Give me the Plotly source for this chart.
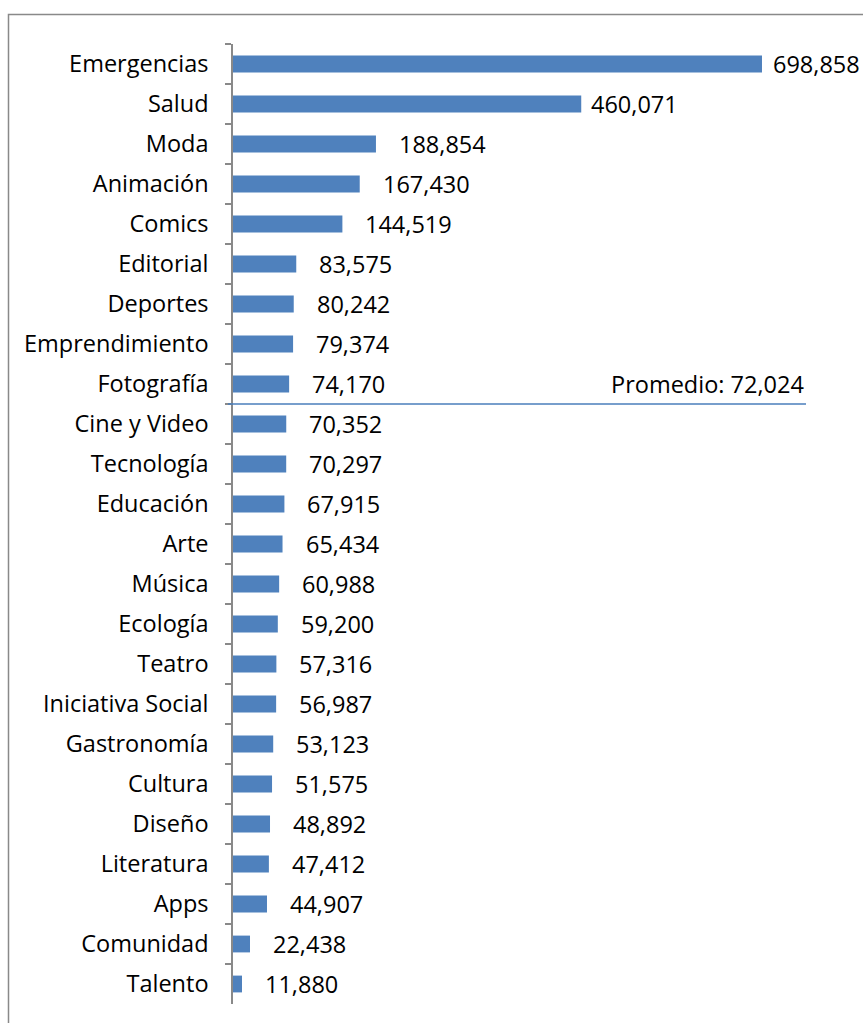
import plotly.graph_objects as go

# Visits per category
categories = [
    "Emergencias", "Salud", "Moda", "Animación", "Comics", "Editorial",
    "Deportes", "Emprendimiento", "Fotografía", "Cine y Video", "Tecnología",
    "Educación", "Arte", "Música", "Ecología", "Teatro", "Iniciativa Social",
    "Gastronomía", "Cultura", "Diseño", "Literatura", "Apps", "Comunidad",
    "Talento",
]
values = [
    698858, 460071, 188854, 167430, 144519, 83575, 80242, 79374, 74170,
    70352, 70297, 67915, 65434, 60988, 59200, 57316, 56987, 53123, 51575,
    48892, 47412, 44907, 22438, 11880,
]
average = 72024
average_label = "Promedio: 72,024"

W, H = 863, 1023
M_L, M_R, M_T, M_B = 233, 57, 44, 19
plot_w = W - M_L - M_R
plot_h = H - M_T - M_B

FONT = "Open Sans"
FS = 23.5
BAR = "#4F81BD"
GRID = "#898989"

fig = go.Figure()
fig.add_trace(go.Bar(
    x=values, y=categories, orientation="h",
    marker=dict(color=BAR, line=dict(width=0)),
    width=0.42, hoverinfo="x+y",
))

# value labels just past each bar end; the two longest sit a bit closer
label_gap = {"Emergencias": 9, "Salud": 8}
for c, v in zip(categories, values):
    fig.add_annotation(
        x=v, y=c, xref="x", yref="y", text=f"{v:,}", showarrow=False,
        xanchor="left", yanchor="middle", xshift=label_gap.get(c, 21),
        font=dict(family=FONT, size=FS, color="#000000"),
    )

# average marker: a horizontal rule between the rows it falls between
avg_row = sum(1 for v in values if v >= average) - 0.5
fig.add_shape(
    type="line", xref="paper", yref="y",
    x0=-5 / plot_w, x1=1, y0=avg_row, y1=avg_row,
    line=dict(color="#4A7EBB", width=1.5),
)
fig.add_annotation(
    x=1, y=avg_row, xref="paper", yref="y", text=average_label,
    showarrow=False, xanchor="right", yanchor="bottom", yshift=2,
    font=dict(family=FONT, size=FS, color="#000000"),
)

# outer chart frame (left and top edges fall inside the page)
fig.add_shape(
    type="rect", xref="paper", yref="paper", layer="below",
    x0=(8.5 - M_L) / plot_w, x1=2,
    y0=-1, y1=(H - M_B - 14.5) / plot_h,
    line=dict(color=GRID, width=1.5), fillcolor="rgba(0,0,0,0)",
)

fig.update_layout(
    width=W, height=H,
    margin=dict(l=M_L, r=M_R, t=M_T, b=M_B, pad=0),
    paper_bgcolor="#ffffff", plot_bgcolor="#ffffff",
    showlegend=False,
    xaxis=dict(
        range=[0, 757000], visible=False, showgrid=False, zeroline=False,
    ),
    yaxis=dict(
        type="category", autorange="reversed",
        showline=True, linecolor=GRID, linewidth=1.5,
        ticks="outside", tickson="boundaries", ticklen=6,
        tickcolor=GRID, tickwidth=1.5,
        showgrid=False, zeroline=False,
        ticklabelstandoff=18,
        tickfont=dict(family=FONT, size=FS, color="#000000"),
    ),
)

fig.write_html("out.html")
